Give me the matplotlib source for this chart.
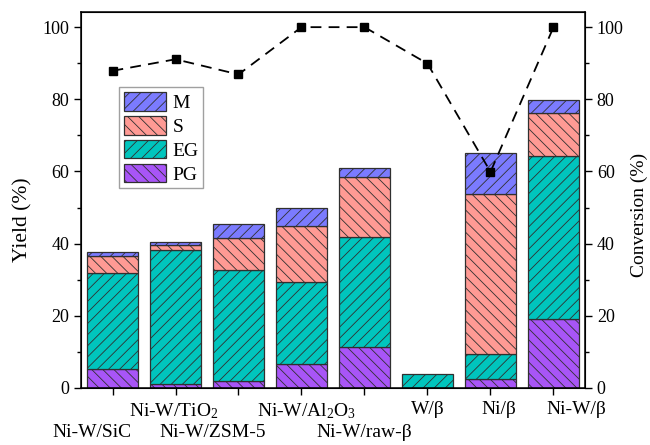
import matplotlib
matplotlib.use("Agg")
import matplotlib.pyplot as plt
from matplotlib.transforms import blended_transform_factory
from matplotlib.ticker import MultipleLocator
import numpy as np

plt.rcParams['font.family'] = ['Liberation Serif', 'DejaVu Serif']
plt.rcParams['mathtext.fontset'] = 'custom'
plt.rcParams['mathtext.rm'] = 'Liberation Serif'
plt.rcParams['mathtext.it'] = 'Liberation Serif:italic'
plt.rcParams['hatch.linewidth'] = 0.6
plt.rcParams['hatch.color'] = '#303030'

catalysts = ['Ni-W/SiC', 'Ni-W/TiO$_2$', 'Ni-W/ZSM-5', 'Ni-W/Al$_2$O$_3$',
             'Ni-W/raw-β', 'W/β', 'Ni/β', 'Ni-W/β']
label_row = [1, 0, 1, 0, 1, 0, 0, 0]
label_shift = [-0.32, -0.03, -0.41, 0.08, 0.0, 0.0, 0.14, 0.37]

PG = [5.2, 1.0, 1.9, 6.6, 11.4, 0.0, 2.4, 19.1]
EG = [26.7, 37.2, 30.8, 22.9, 30.5, 3.9, 6.9, 45.3]
S = [4.7, 1.4, 9.0, 15.5, 16.6, 0.0, 44.6, 11.9]
M = [1.2, 0.8, 3.7, 5.0, 2.6, 0.0, 11.3, 3.5]
conversion = [87.9, 91.1, 86.9, 100.0, 100.0, 89.9, 59.9, 100.0]

series = [('PG', PG, '#a855f7', '\\\\\\'),
          ('EG', EG, '#00c5bd', '///'),
          ('S', S, '#ff9a94', '\\\\\\'),
          ('M', M, '#7b7bff', '///')]

fig = plt.figure(figsize=(6.5, 4.45), dpi=100)
ax = fig.add_axes([81/650, 57/445, 504/650, 376/445])
x = np.arange(len(catalysts))
bottom = np.zeros(len(catalysts))
handles = {}
for name, vals, col, hat in series:
    vals = np.array(vals)
    mask = vals > 0
    b = ax.bar(x[mask], vals[mask], 0.8, bottom=bottom[mask], color=col,
               edgecolor='#303030', linewidth=0.9, hatch=hat, label=name)
    handles[name] = b
    bottom += vals

ax.set_xlim(-0.5, 7.5)
ax.set_ylim(0, 104.2)
ax.yaxis.set_major_locator(MultipleLocator(20))
ax.yaxis.set_minor_locator(MultipleLocator(10))
ax.set_xticks(x)
ax.set_xticklabels([])
ax.tick_params(axis='both', which='major', direction='out', length=5, width=1, labelsize=13)
ax.tick_params(axis='y', which='minor', direction='out', length=3, width=1)
for sp in ax.spines.values():
    sp.set_linewidth(1.1)
ax.set_ylabel('Yield (%)', fontsize=15.5)
ax.yaxis.set_label_coords(-0.097, 0.447)

tr = blended_transform_factory(ax.transData, ax.transAxes)
for i, (lab, row, sh) in enumerate(zip(catalysts, label_row, label_shift)):
    yy = -0.035 if row == 0 else -0.097
    ax.text(i + sh, yy, lab, transform=tr, ha='center', va='top', fontsize=14)

ax2 = ax.twinx()
ax2.plot(x, conversion, linestyle=(0, (6, 4)), color='black', linewidth=1.3,
         marker='s', markersize=6, markerfacecolor='black', markeredgecolor='black')
ax2.set_ylim(0, 104.2)
ax2.yaxis.set_major_locator(MultipleLocator(20))
ax2.yaxis.set_minor_locator(MultipleLocator(10))
ax2.tick_params(axis='y', which='major', direction='out', length=5, width=1, labelsize=13)
ax2.tick_params(axis='y', which='minor', direction='out', length=3, width=1)
ax2.set_ylabel('Conversion (%)', fontsize=14)
ax2.yaxis.set_label_coords(1.09, 0.46)

leg = ax.legend([handles['M'], handles['S'], handles['EG'], handles['PG']],
                ['M', 'S', 'EG', 'PG'], loc='upper left',
                bbox_to_anchor=(0.075, 0.8), fontsize=14, frameon=True,
                fancybox=False, edgecolor='#888888', handlelength=2.2,
                handleheight=1.1, handletextpad=0.3, labelspacing=0.2,
                borderpad=0.25, borderaxespad=0)
leg.get_frame().set_linewidth(1.0)

fig.savefig('out.png', dpi=100)
